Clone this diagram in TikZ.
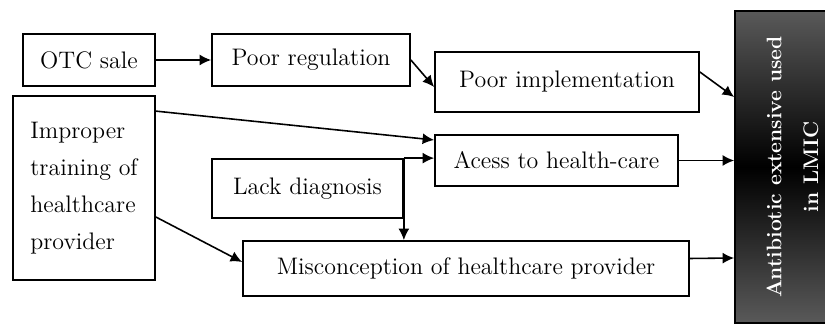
\documentclass[tikz,border=0pt]{standalone}
\usepackage{tikz}
\usetikzlibrary{arrows.meta}

\begin{document}
\begin{tikzpicture}
  \tikzset{box/.style = {shape=rectangle,draw,line width=1pt,inner sep=2pt,font=\fontsize{13.6}{21}\selectfont}}
  \tikzset{outbox/.style = {shape=rectangle,draw,line width=1pt,top color=gray!70!black,bottom color=gray!70!black,middle color=black}}
  \tikzset{outtext/.style = {rotate=90,text=white,align=center,font=\bfseries\fontsize{12}{21}\selectfont}}
  \tikzset{edge/.style = {-{Latex[length=2.3mm,width=2.2mm]},line width=0.9pt}}

  \useasboundingbox (0,0) rectangle (16.5,6.5);

	\node[box,minimum width=2.64cm,minimum height=1.04cm] (OTC) at (1.78,5.30) {OTC sale};
	\node[box,minimum width=3.96cm,minimum height=1.04cm] (REG) at (6.22,5.30) {Poor regulation};
	\node[box,minimum width=5.28cm,minimum height=1.20cm] (IMPL) at (11.34,4.86) {Poor implementation};

	\node[box,minimum width=2.84cm,minimum height=3.68cm,align=left] (IMP) at (1.68,2.74)
	  {Improper\\training of\\healthcare\\provider};
	\node[box,minimum width=4.86cm,minimum height=1.02cm] (ACC) at (11.13,3.29) {Acess to health-care};
	\node[box,minimum width=3.82cm,minimum height=1.18cm] (LACK) at (6.15,2.73) {Lack diagnosis};
	\node[box,minimum width=8.92cm,minimum height=1.10cm] (MISC) at (9.32,1.13) {Misconception of healthcare provider};

	\node[outbox,minimum width=2.3cm,minimum height=6.24cm] (OUT) at (15.85,3.16) {};
	\node[outtext] (OUTTXT) at (OUT.center) {Antibiotic extensive used\\in LMIC};

	% arrows
	\draw[edge] (OTC) -- (REG);
	\draw[edge] (REG.east) -- ([yshift=-0.1cm]IMPL.west);
	\draw[edge] ([yshift=0.2cm]IMPL.east) -- ([yshift=1.4cm]OUT.west);
	\draw[edge] ([yshift=-0.32cm]IMP.north east) -- ([yshift=0.41cm]ACC.west);
	\draw[edge] (LACK.north east) -- (LACK.north east -| ACC.west);
	\draw[edge] (LACK.north east) -- (LACK.north east |- MISC.north);
	\draw[edge] (ACC.east) -- (ACC.east -| OUT.west);
	\draw[edge] ([yshift=-0.58cm]IMP.east) -- ([yshift=0.13cm]MISC.west);
	\draw[edge] ([yshift=0.2cm]MISC.east) -- ([yshift=-1.82cm]OUT.west);
\end{tikzpicture}
\end{document}
